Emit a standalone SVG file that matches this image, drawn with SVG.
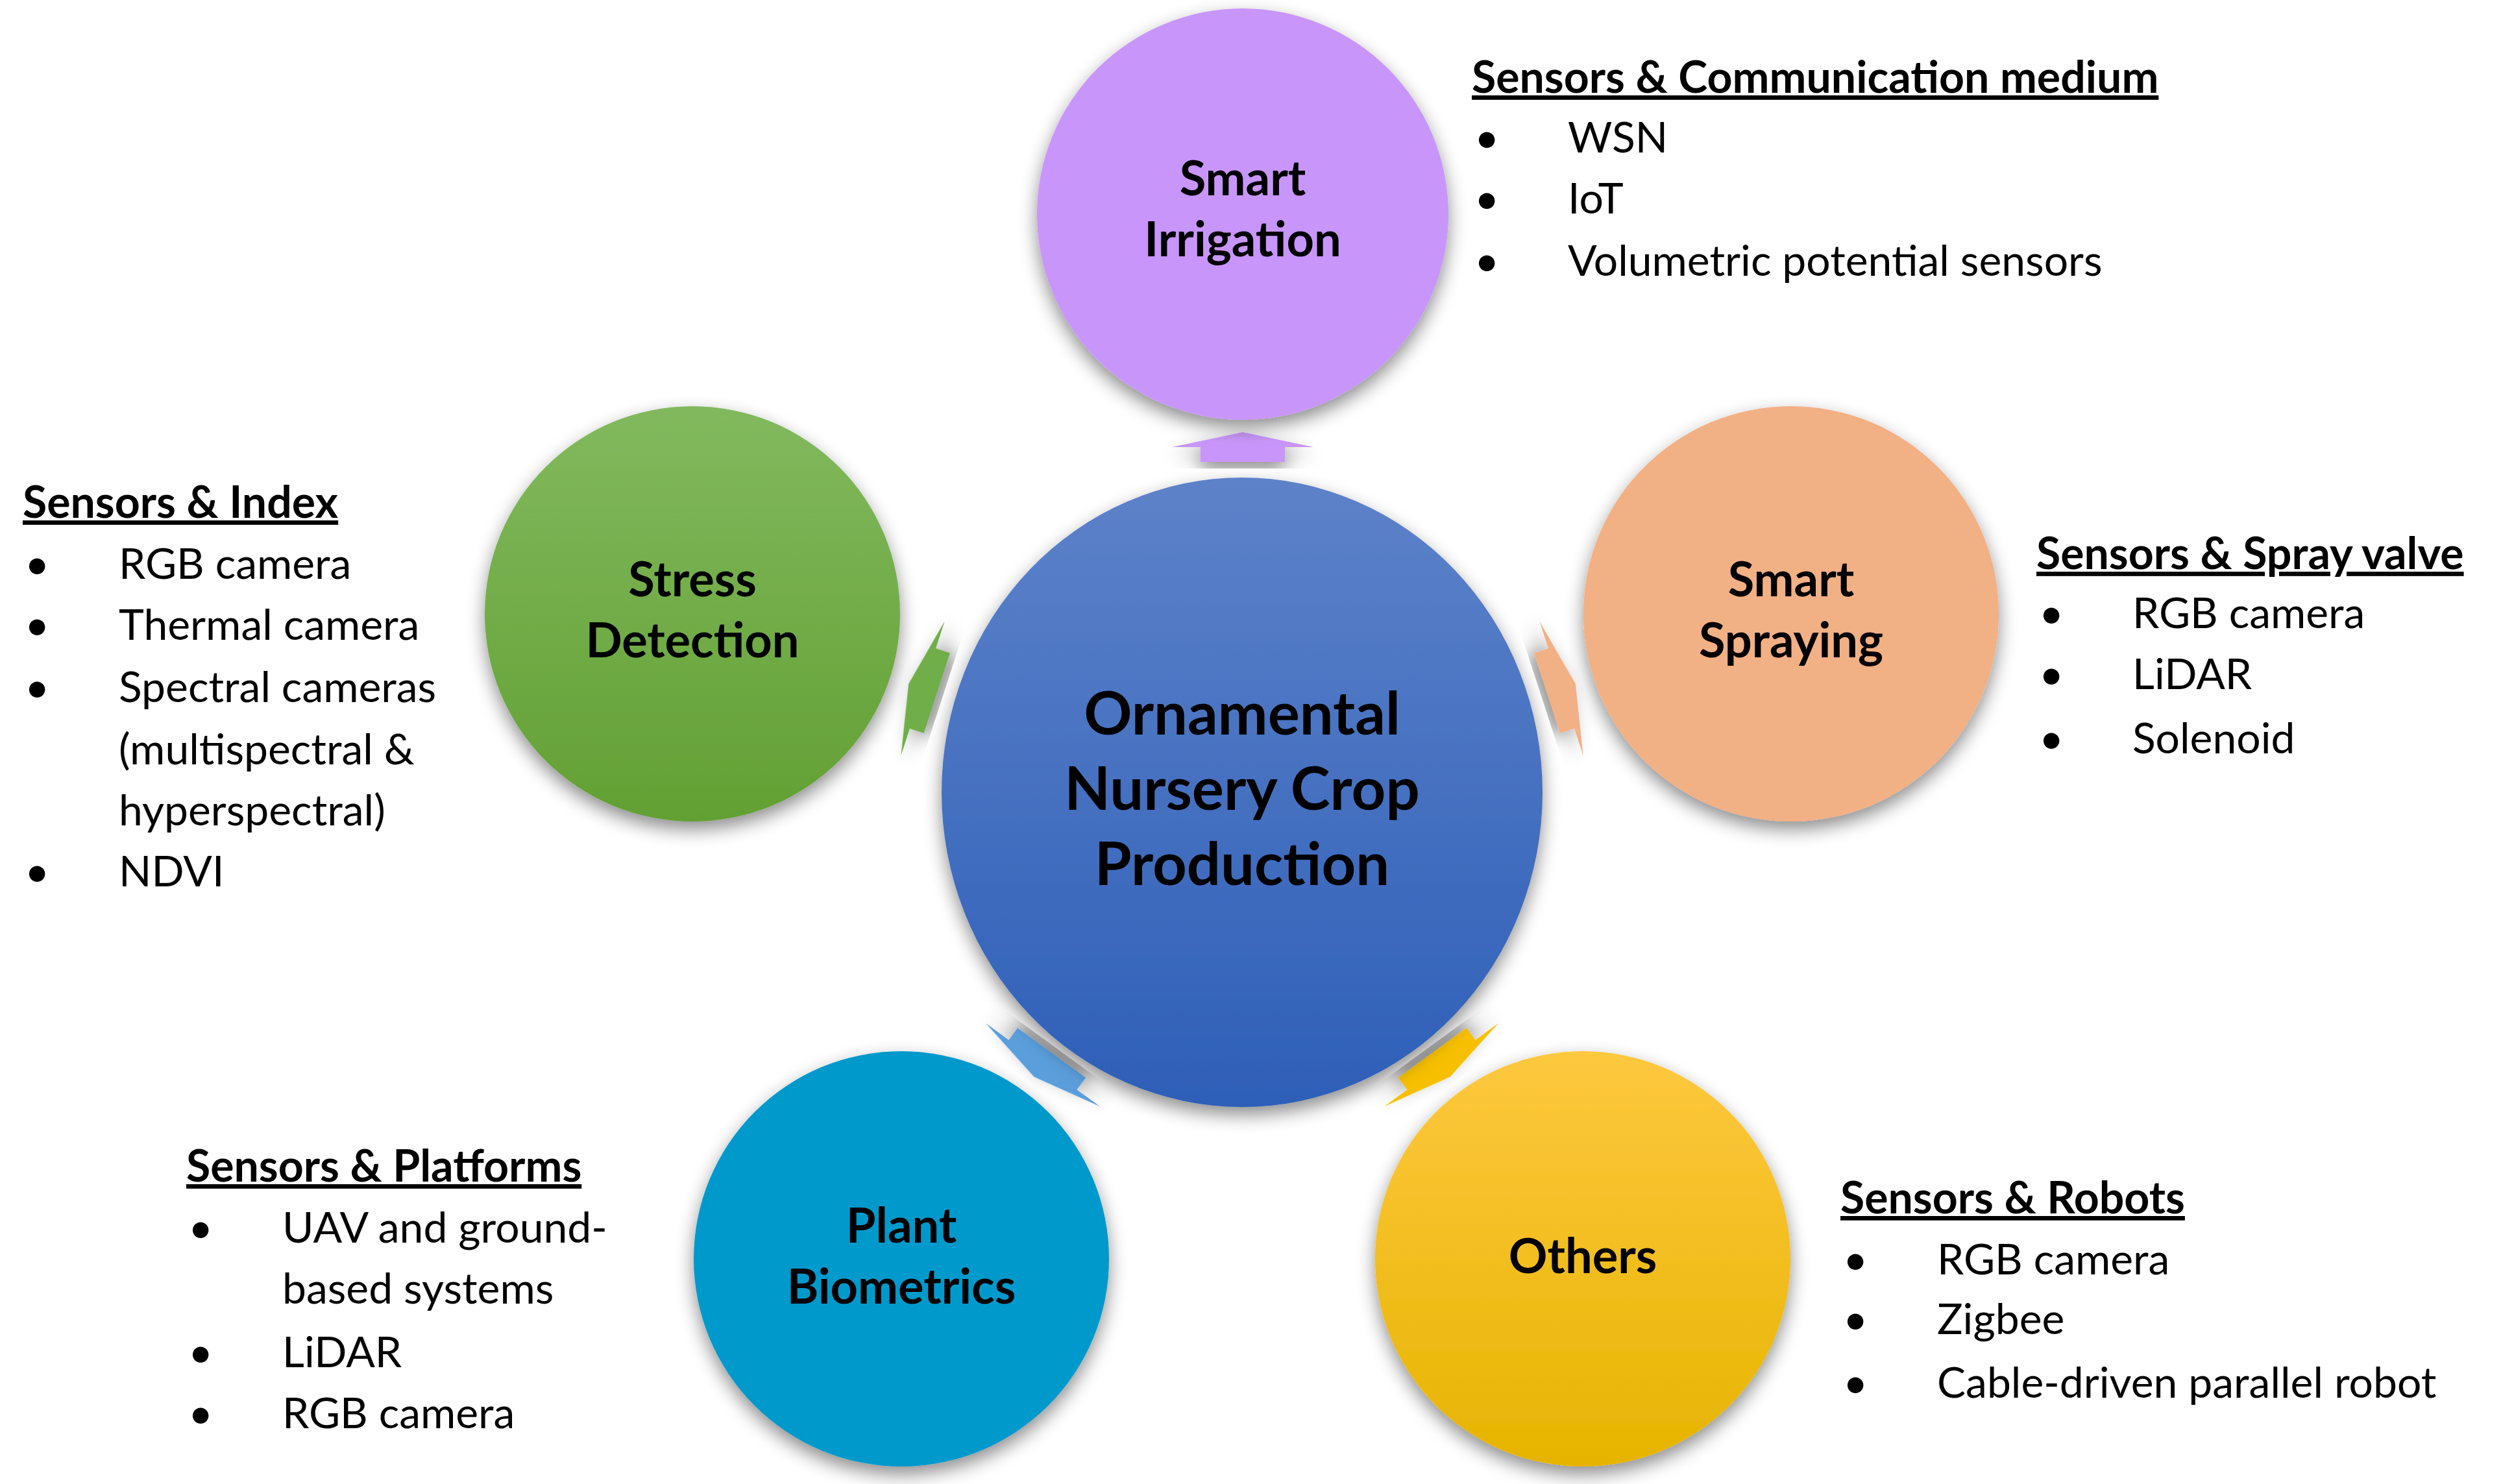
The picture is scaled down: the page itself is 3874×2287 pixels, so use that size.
<svg xmlns="http://www.w3.org/2000/svg" width="3874" height="2287" viewBox="0 0 3874 2287">
<defs>
<filter id="sh" x="-20%" y="-20%" width="140%" height="140%"><feDropShadow dx="0" dy="12" stdDeviation="14" flood-color="#000" flood-opacity="0.45"/></filter>
<linearGradient id="gC" x1="0" y1="0" x2="0" y2="1"><stop offset="0" stop-color="#5d82c9"/><stop offset="1" stop-color="#2e5fb8"/></linearGradient>
<linearGradient id="gG" x1="0" y1="0" x2="0" y2="1"><stop offset="0" stop-color="#82b95e"/><stop offset="1" stop-color="#62a033"/></linearGradient>
<linearGradient id="gY" x1="0" y1="0" x2="0" y2="1"><stop offset="0" stop-color="#fec83f"/><stop offset="1" stop-color="#e6b400"/></linearGradient>
<path id="arr" d="M0,-23 L109,0 L65,0 L65,23 L-65,23 L-65,0 L-109,0 Z"/>
</defs>
<style>
text{font-family:Lato,"Open Sans","Liberation Sans",sans-serif;fill:#000}
.lb{font-weight:bold;font-size:74px;text-anchor:middle}
.ct{font-weight:bold;font-size:92px;text-anchor:middle}
.h{font-weight:bold;font-size:68px;text-decoration:underline}
.t{font-size:66px}
</style>
<rect width="3874" height="2287" fill="#fff"/>
<g id="connectors">
<use href="#arr" fill="#c896fa" filter="url(#sh)" transform="translate(1915,689)"/>
<use href="#arr" fill="#70ae48" filter="url(#sh)" transform="translate(1422,1061) rotate(-72)"/>
<use href="#arr" fill="#f2b085" filter="url(#sh)" transform="translate(2406,1061) rotate(72)"/>
<use href="#arr" fill="#5a9edb" filter="url(#sh)" transform="translate(1607,1641) rotate(-143.9)"/>
<use href="#arr" fill="#f6c000" filter="url(#sh)" transform="translate(2221,1641) rotate(143.9)"/>
</g>
<g id="center"><ellipse cx="1914" cy="1221" rx="463" ry="485" fill="url(#gC)" filter="url(#sh)"/>
<text class="ct" x="1914" y="1132">Ornamental</text><text class="ct" x="1914" y="1248">Nursery  Crop</text><text class="ct" x="1914" y="1364">Production</text></g>
<g id="irrigation"><circle cx="1915" cy="330" r="317" fill="#c896fa" filter="url(#sh)"/>
<text class="lb" x="1915" y="301">Smart</text><text class="lb" x="1915" y="395">Irrigation</text></g>
<g id="stress"><circle cx="1067" cy="946" r="320" fill="url(#gG)" filter="url(#sh)"/>
<text class="lb" x="1067" y="919">Stress</text><text class="lb" x="1067" y="1013">Detection</text></g>
<g id="spraying"><circle cx="2760" cy="946" r="320" fill="#f2b085" filter="url(#sh)"/>
<text class="lb" x="2760" y="919">Smart</text><text class="lb" x="2760" y="1013">Spraying</text></g>
<g id="biometrics"><circle cx="1389" cy="1940" r="320" fill="#0399cc" filter="url(#sh)"/>
<text class="lb" x="1389" y="1915">Plant</text><text class="lb" x="1389" y="2009">Biometrics</text></g>
<g id="others"><circle cx="2439" cy="1940" r="320" fill="url(#gY)" filter="url(#sh)"/>
<text class="lb" x="2439" y="1962">Others</text></g>
<g id="list-irrigation">
<text class="h" x="2268" y="143">Sensors &amp; Communication medium</text>
<text class="t" x="2272" y="235">•</text><text class="t" x="2416" y="235">WSN</text>
<text class="t" x="2272" y="329">•</text><text class="t" x="2416" y="329">IoT</text>
<text class="t" x="2272" y="425">•</text><text class="t" x="2416" y="425">Volumetric  potential sensors</text>
</g>
<g id="list-stress">
<text class="h" x="35" y="798">Sensors &amp; Index</text>
<text class="t" x="38" y="892">•</text><text class="t" x="183" y="892">RGB camera</text>
<text class="t" x="38" y="986">•</text><text class="t" x="183" y="986">Thermal camera</text>
<text class="t" x="38" y="1082">•</text><text class="t" x="183" y="1082">Spectral cameras</text>
<text class="t" x="183" y="1178">(multispectral &amp;</text>
<text class="t" x="183" y="1272">hyperspectral)</text>
<text class="t" x="38" y="1366">•</text><text class="t" x="183" y="1366">NDVI</text>
</g>
<g id="list-spraying">
<text class="h" x="3138" y="877">Sensors &amp; Spray valve</text>
<text class="t" x="3142" y="968">•</text><text class="t" x="3286" y="968">RGB camera</text>
<text class="t" x="3142" y="1062">•</text><text class="t" x="3286" y="1062">LiDAR</text>
<text class="t" x="3142" y="1161">•</text><text class="t" x="3286" y="1161">Solenoid</text>
</g>
<g id="list-biometrics">
<text class="h" x="287" y="1821">Sensors &amp; Platforms</text>
<text class="t" x="290" y="1915">•</text><text class="t" x="435" y="1915">UAV and ground-</text>
<text class="t" x="435" y="2009">based systems</text>
<text class="t" x="290" y="2107">•</text><text class="t" x="435" y="2107">LiDAR</text>
<text class="t" x="290" y="2201">•</text><text class="t" x="435" y="2201">RGB camera</text>
</g>
<g id="list-others">
<text class="h" x="2836" y="1870">Sensors &amp; Robots</text>
<text class="t" x="2840" y="1964">•</text><text class="t" x="2985" y="1964">RGB camera</text>
<text class="t" x="2840" y="2056">•</text><text class="t" x="2985" y="2056">Zigbee</text>
<text class="t" x="2840" y="2154">•</text><text class="t" x="2985" y="2154">Cable-driven parallel robot</text>
</g>
</svg>
